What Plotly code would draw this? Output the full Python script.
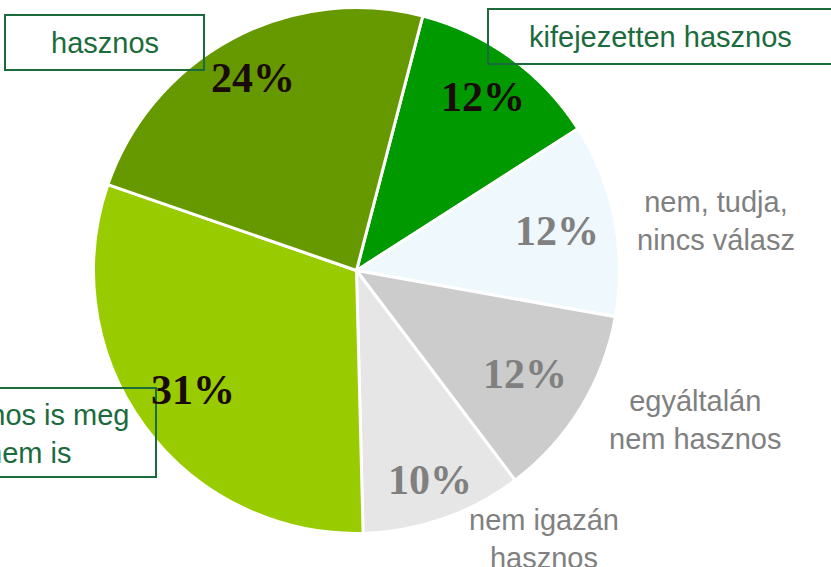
import math
import plotly.graph_objects as go

categories = ["kifejezetten hasznos", "nem, tudja, nincs válasz", "egyáltalán nem hasznos",
              "nem igazán hasznos", "hasznos is meg nem is", "hasznos"]
values = [12, 12, 12, 10, 31, 24]
slice_colors = ["#009900", "#EEF8FD", "#CCCCCC", "#E6E6E6", "#99CC00", "#669900"]
pct_colors = ["#1A0A0A", "#808080", "#808080", "#808080", "#1A0A0A", "#1A0A0A"]
pct_text = [f"{v}%" for v in values]
# radial placement of percentage labels (fraction of radius)
label_radius = [0.817, 0.776, 0.752, 0.843, 0.770, 0.832]

W, H = 831, 567
GREEN = "#1B6B3D"
GRAY = "#808080"
ROTATION = 14.6
CX, CY, R = 356.5, 270.5, 263

fig = go.Figure(go.Pie(
    labels=categories,
    values=values,
    textinfo="none",
    marker=dict(colors=slice_colors, line=dict(color="white", width=3)),
    sort=False,
    direction="clockwise",
    rotation=ROTATION,
    showlegend=False,
    hoverinfo="label+percent",
    domain=dict(x=[(CX - R) / W, (CX + R) / W], y=[(H - CY - R) / H, (H - CY + R) / H]),
))


def px(x):
    return x / W


def py(y):
    return 1 - y / H


# percentage labels placed on each slice's bisector
total = sum(values)
cum = 0
for v, t, c, rf in zip(values, pct_text, pct_colors, label_radius):
    ang = math.radians(ROTATION + 360 * (cum + v / 2) / total)
    cum += v
    lx = CX + rf * R * math.sin(ang)
    ly = CY - rf * R * math.cos(ang)
    fig.add_annotation(xref="paper", yref="paper", x=px(lx), y=py(ly), text=t,
                       showarrow=False, xanchor="center", yanchor="middle",
                       font=dict(family="Liberation Serif", size=42, color=c, weight="bold"))

# boxed green labels
boxes = [
    (5, 15, 204, 70, "hasznos", 105, 43),
    (488, 9, 834, 64, "kifejezetten hasznos", 660, 37),
    (-98, 388, 156, 477, "hasznos is meg<br>nem is", 29, 434),
]
for x0, y0, x1, y1, txt, tx, ty in boxes:
    fig.add_shape(type="rect", xref="paper", yref="paper",
                  x0=px(x0), x1=px(x1), y0=py(y0), y1=py(y1),
                  line=dict(color=GREEN, width=2), fillcolor="rgba(0,0,0,0)", layer="above")
    fig.add_annotation(xref="paper", yref="paper", x=px(tx), y=py(ty), text=txt,
                       showarrow=False, xanchor="center", yanchor="middle", align="center",
                       font=dict(family="Liberation Sans", size=29, color=GREEN))

# gray labels
grays = [
    ("nem, tudja,<br>nincs válasz", 716, 221),
    ("egyáltalán<br>nem hasznos", 695, 420),
    ("nem igazán<br>hasznos", 544, 539),
]
for txt, tx, ty in grays:
    fig.add_annotation(xref="paper", yref="paper", x=px(tx), y=py(ty), text=txt,
                       showarrow=False, xanchor="center", yanchor="middle", align="center",
                       font=dict(family="Liberation Sans", size=29, color=GRAY))

fig.update_layout(width=W, height=H, margin=dict(l=0, r=0, t=0, b=0),
                  paper_bgcolor="white", plot_bgcolor="white")

fig.write_html("out.html", config={"displayModeBar": False},
               post_script="document.body.style.margin='0px';")
